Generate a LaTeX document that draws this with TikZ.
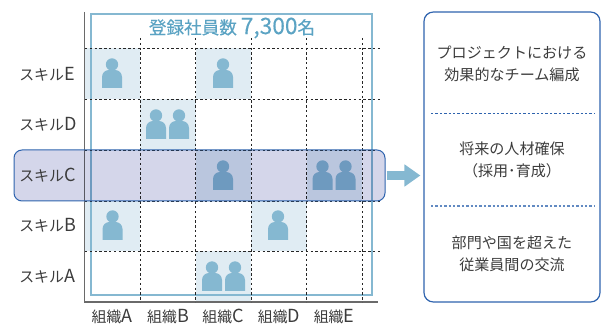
\documentclass[tikz,border=0pt]{standalone}
\usepackage{fontspec}
\setmainfont{Noto Sans CJK JP}
\newfontfamily\titlefont[FakeBold=0.25]{Noto Sans CJK JP}
\usetikzlibrary{arrows.meta}
\definecolor{tealc}{HTML}{85B8D1}
\definecolor{cell}{HTML}{E0ECF3}
\definecolor{bandfill}{HTML}{D4D6EA}
\definecolor{edgeblue}{HTML}{2E63AE}
\definecolor{titlec}{HTML}{5BA3C3}
\definecolor{txt}{HTML}{3C3C3C}
\definecolor{axisc}{HTML}{6A6A6A}
\newcommand{\biglat}[1]{{\fontsize{13.5}{13}\selectfont #1}}
\tikzset{
  x=0.75pt,y=-0.75pt,
  cellbox/.style={fill=cell,draw=none},
  gridline/.style={black!85,line width=0.7pt,dash pattern=on 1.8pt off 1.8pt},
  frameline/.style={draw=tealc,line width=2.2pt},
  axisline/.style={draw=axisc,line width=0.9pt},
  rowlabel/.style={anchor=base west,inner sep=0pt,text=txt,font=\fontsize{11.2}{13}\selectfont},
  collabel/.style={anchor=base,inner sep=0pt,text=txt,font=\fontsize{11.2}{13}\selectfont},
  sidetext/.style={inner sep=0pt,align=center,text=txt,font=\fontsize{11.3}{16.5}\selectfont},
  person/.pic={
    \fill[tealc] (0,-11.5) circle[radius=6.2];
    \fill[tealc] (-10,12) -- (-10,1) to[out=90,in=180] (-3,-6) -- (3,-6) to[out=0,in=90] (10,1) -- (10,12) -- cycle;
  }
}
\begin{document}
\begin{tikzpicture}
\useasboundingbox (0,0) rectangle (601,324);
% highlighted cells
\fill[cellbox] (85,48.5) rectangle (140,99);
\fill[cellbox] (195.5,48.5) rectangle (251,99);
\fill[cellbox] (140,99) rectangle (195.5,150);
\fill[cellbox] (195.5,150) rectangle (251,201);
\fill[cellbox] (306.5,150) rectangle (362,201);
\fill[cellbox] (85,201) rectangle (140,251);
\fill[cellbox] (251,201) rectangle (306.5,251);
\fill[cellbox] (195.5,251) rectangle (251,302);
% frame and axes
\draw[frameline] (91,14) rectangle (372,295);
\draw[axisline] (84.5,12) -- (84.5,302) -- (378,302);
% grid
\foreach \gx in {140,195.5,251,306.5,362} \draw[gridline] (\gx,38) -- (\gx,302);
\foreach \gy in {48.5,99,150,201,251} \draw[gridline] (85,\gy) -- (380,\gy);
% people
\foreach \px/\py in {112/76,223/76,156/127,179/127,223/178,322.5/178,345.5/178,112.5/228,278/228,212/279,235/279}
  \pic at (\px,\py) {person};
% band
\begin{scope}[blend mode=multiply]
\fill[bandfill,rounded corners=6pt] (14,150) rectangle (385,201);
\end{scope}
\node[draw=edgeblue,line width=0.75pt,rounded corners=6pt,minimum width=278.25pt,minimum height=38.25pt,inner sep=0pt] (band) at (199.5,175.5) {};
% right box
\node[draw=edgeblue,line width=0.9pt,rounded corners=7pt,minimum width=132pt,minimum height=217.5pt,inner sep=0pt] (panel) at (512,157) {};
\draw[edgeblue,line width=0.7pt,dash pattern=on 1.8pt off 1.5pt] (431,113.5) -- (595,113.5);
\draw[edgeblue!75,line width=0.8pt,dash pattern=on 1.8pt off 1.5pt] (431,206) -- (595,206);
% arrow
\draw[tealc,line width=6.75pt,shorten <=0.75pt,shorten >=2.25pt,-{Triangle[length=12pt,width=16pt]}] (band.east) -- (band.east -| panel.west);
% texts
\node[inner sep=0pt,text=titlec,font=\titlefont\fontsize{13.2}{15}\selectfont] (title) at (232,28) {登録社員数 {\fontsize{17}{15}\selectfont 7,300}名};
\node[rowlabel] (se) at (19,80.5) {スキル\biglat{E}};
\node[rowlabel] (sd) at (19,130.5) {スキル\biglat{D}};
\node[rowlabel] (sc) at (19,181.5) {スキル\biglat{C}};
\node[rowlabel] (sb) at (19,232) {スキル\biglat{B}};
\node[rowlabel] (sa) at (19,282.5) {スキル\biglat{A}};
\node[collabel] (oa) at (112,322.5) {組織\biglat{A}};
\node[collabel] (ob) at (168,322.5) {組織\biglat{B}};
\node[collabel] (oc) at (223,322.5) {組織\biglat{C}};
\node[collabel] (od) at (279,322.5) {組織\biglat{D}};
\node[collabel] (oe) at (334,322.5) {組織\biglat{E}};
\node[sidetext] (t1) at (512,64) {プロジェクトにおける\\効果的なチーム編成};
\node[sidetext] (t2) at (512,160) {将来の人材確保\\（採用･育成）};
\node[sidetext] (t3) at (512,254) {部門や国を超えた\\従業員間の交流};
\end{tikzpicture}
\end{document}
